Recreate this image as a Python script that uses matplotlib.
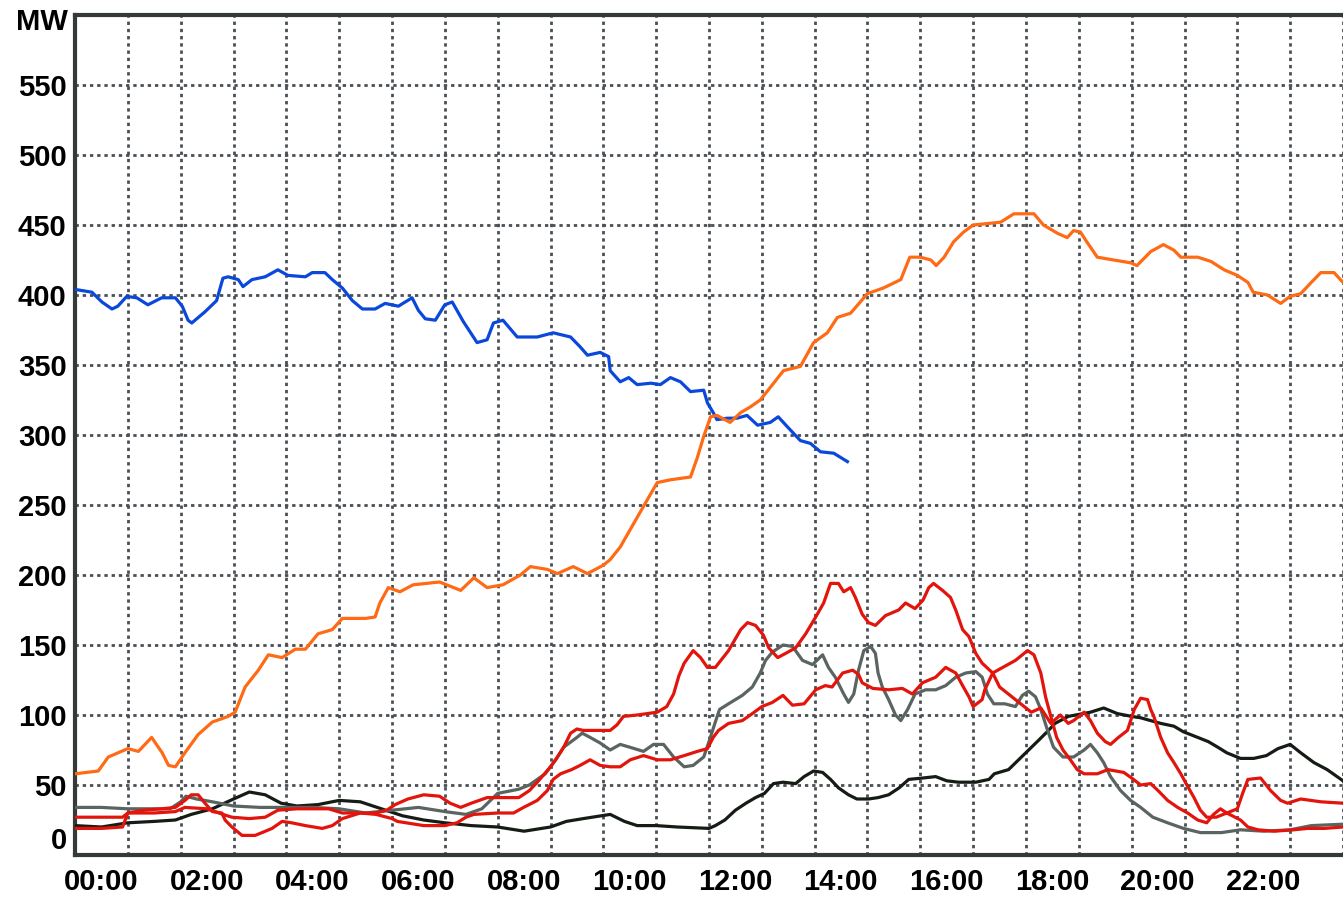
import numpy as np
import matplotlib.pyplot as plt
import matplotlib.transforms as mtransforms

# data to plot (hours of day, MW)
orange_h = [0, 0.44, 0.63, 1.0, 1.2, 1.45, 1.65, 1.77, 1.9, 2.08, 2.33, 2.6, 2.9, 3.03, 3.22, 3.47,
            3.66, 3.92, 4.17, 4.36, 4.6, 4.87, 5.06, 5.5, 5.68, 5.77, 5.93, 6.15, 6.4, 6.9, 7.3, 7.55,
            7.8, 8.1, 8.43, 8.62, 8.94, 9.13, 9.43, 9.7, 10.0, 10.13, 10.32, 10.76, 11.02, 11.27, 11.65,
            11.78, 11.9, 12.03, 12.15, 12.4, 12.6, 12.78, 12.97, 13.16, 13.41, 13.73, 13.98, 14.24,
            14.43, 14.68, 15.0, 15.3, 15.63, 15.8, 16.0, 16.2, 16.3, 16.45, 16.63, 16.82, 17.0, 17.52,
            17.77, 18.15, 18.33, 18.6, 18.78, 18.9, 19.03, 19.15, 19.35, 19.66, 19.98, 20.1, 20.36,
            20.6, 20.8, 20.93, 21.25, 21.5, 21.75, 22.0, 22.2, 22.3, 22.57, 22.82, 23.0, 23.2, 23.4,
            23.58, 23.83, 24.0]
orange_v = [58, 60, 70, 76, 74, 84, 73, 64, 63, 73, 86, 95, 99, 102, 120, 132,
            143, 141, 147, 147, 158, 161, 169, 169, 170, 180, 191, 188, 193, 195, 189, 198,
            191, 193, 200, 206, 204, 201, 206, 201, 207, 211, 220, 249, 266, 268, 270,
            284, 299, 313, 314, 309, 316, 320, 325, 334, 346, 349, 366, 373,
            384, 387, 401, 405, 411, 427, 427, 425, 421, 427, 438, 445, 450, 452,
            458, 458, 450, 444, 441, 446, 445, 438, 427, 425, 423, 421, 431,
            436, 432, 427, 427, 424, 418, 414, 409, 402, 400, 394, 399, 401, 409,
            416, 416, 409]

blue_h = [0, 0.32, 0.51, 0.7, 0.81, 0.98, 1.17, 1.38, 1.64, 1.9, 2.03, 2.14, 2.21, 2.46, 2.68, 2.8,
          2.9, 3.09, 3.18, 3.35, 3.6, 3.84, 4.03, 4.36, 4.49, 4.73, 4.87, 5.06, 5.25, 5.44, 5.68,
          5.87, 6.12, 6.38, 6.5, 6.63, 6.82, 7.0, 7.14, 7.35, 7.61, 7.8, 7.92, 8.1, 8.37, 8.75, 9.05,
          9.38, 9.56, 9.7, 9.94, 10.1, 10.13, 10.2, 10.32, 10.48, 10.64, 10.9, 11.08, 11.27, 11.46,
          11.65, 11.9, 11.97, 12.08, 12.15, 12.35, 12.53, 12.72, 12.92, 13.16, 13.31, 13.48, 13.73,
          13.92, 14.11, 14.36, 14.62]
blue_v = [404, 402, 395, 390, 392, 399, 398, 393, 398, 398, 392, 382, 380, 388, 396, 412,
          413, 411, 406, 411, 413, 418, 414, 413, 416, 416, 411, 405, 396, 390, 390,
          394, 392, 398, 389, 383, 382, 393, 395, 381, 366, 368, 380, 382, 370, 370, 373,
          370, 363, 357, 359, 356, 346, 343, 338, 341, 336, 337, 336, 341, 338,
          331, 332, 323, 316, 311, 312, 312, 314, 307, 309, 313, 306, 296,
          294, 288, 287, 281]

red_a_h = [0, 0.5, 0.9, 1.0, 1.5, 1.9, 2.08, 2.5, 2.8, 2.97, 3.3, 3.6, 3.84, 4.2, 4.8, 5.06, 5.7, 5.9,
           6.06, 6.3, 6.6, 6.9, 7.1, 7.3, 7.5, 7.8, 8.1, 8.4, 8.6, 8.75, 9.0, 9.13, 9.25, 9.38, 9.5,
           9.62, 9.88, 10.13, 10.26, 10.38, 10.64, 11.02, 11.2, 11.33, 11.43, 11.53, 11.7, 11.84,
           11.97, 12.12, 12.37, 12.6, 12.73, 12.88, 13.03, 13.13, 13.3, 13.45, 13.64, 13.83, 14.02,
           14.17, 14.3, 14.45, 14.55, 14.68, 14.77, 14.9, 15.02, 15.15, 15.34, 15.59, 15.72, 15.9,
           16.05, 16.16, 16.25, 16.42, 16.57, 16.67, 16.8, 16.92, 17.05, 17.17, 17.37, 17.5, 17.7,
           17.9, 18.1, 18.28, 18.47, 18.65, 18.8, 18.9, 19.1, 19.22, 19.35, 19.5, 19.6, 19.75, 19.92,
           20.05, 20.17, 20.3, 20.36, 20.42, 20.55, 20.68, 20.8, 20.93, 21.06, 21.18, 21.3, 21.42,
           21.6, 21.8, 22.06, 22.2, 22.39, 22.7, 23.07, 23.33, 23.65, 24.0]
red_a_v = [19, 19, 20, 30, 30, 31, 34, 33, 29, 27, 26, 27, 32, 33, 33, 30, 30, 32,
           36, 40, 43, 42, 37, 34, 37, 41, 41, 41, 46, 52, 63, 70, 77, 87, 90,
           89, 89, 89, 93, 99, 100, 102, 106, 115, 128, 137, 146, 141,
           134, 134, 146, 161, 166, 164, 157, 148, 141, 144, 148, 158, 170,
           180, 194, 194, 188, 191, 184, 172, 166, 164, 171, 175, 180, 176,
           182, 191, 194, 189, 184, 175, 161, 156, 144, 137, 130, 120, 114,
           108, 102, 105, 94, 100, 94, 96, 102, 96, 87, 81, 79, 84, 89,
           104, 112, 111, 104, 99, 84, 73, 66, 58, 49, 41, 32, 27,
           27, 30, 25, 20, 18, 17, 18, 19, 19, 20]

red_b_h = [0, 0.9, 1.0, 1.3, 1.64, 1.9, 2.08, 2.2, 2.33, 2.46, 2.6, 2.78, 2.84, 2.97, 3.16, 3.41, 3.54,
           3.73, 3.92, 4.1, 4.36, 4.68, 4.87, 5.06, 5.4, 5.7, 6.0, 6.1, 6.6, 7.0, 7.23, 7.4, 7.55, 8.0,
           8.3, 8.49, 8.75, 8.94, 9.05, 9.19, 9.4, 9.56, 9.75, 9.94, 10.13, 10.32, 10.51, 10.76, 11.02,
           11.27, 11.53, 11.78, 11.97, 12.08, 12.18, 12.37, 12.63, 12.82, 13.0, 13.2, 13.4, 13.58,
           13.8, 14.02, 14.2, 14.33, 14.53, 14.72, 14.83, 14.9, 15.1, 15.4, 15.66, 15.85, 16.04,
           16.29, 16.48, 16.67, 16.8, 16.92, 17.0, 17.17, 17.22, 17.37, 17.56, 17.8, 18.03, 18.15,
           18.28, 18.37, 18.47, 18.58, 18.7, 18.84, 18.97, 19.1, 19.35, 19.55, 19.85, 20.0, 20.17,
           20.36, 20.5, 20.68, 20.87, 21.06, 21.25, 21.42, 21.55, 21.68, 21.8, 22.0, 22.1, 22.2,
           22.44, 22.63, 22.82, 22.95, 23.2, 23.58, 24.0]
red_b_v = [27, 27, 30, 32, 33, 34, 39, 43, 43, 37, 31, 30, 25, 20, 14, 14, 16,
           19, 24, 23, 21, 19, 21, 26, 30, 29, 26, 24, 21, 21, 23, 27, 29, 30,
           30, 34, 39, 46, 54, 58, 61, 64, 68, 64, 63, 63, 68, 71, 68,
           68, 71, 74, 76, 84, 89, 94, 96, 101, 106, 109, 114, 107,
           108, 118, 121, 120, 130, 132, 129, 123, 119, 118, 119, 115, 123,
           127, 134, 130, 121, 113, 106, 111, 118, 130, 134, 139, 146, 143,
           130, 113, 99, 84, 75, 68, 61, 58, 58, 61, 59, 55, 50,
           51, 46, 39, 34, 30, 25, 23, 29, 33, 30, 33, 44, 54,
           55, 46, 39, 37, 40, 38, 37]

gray_h = [0, 0.5, 1.0, 1.8, 2.0, 2.1, 2.3, 2.6, 3.0, 3.5, 4.0, 4.5, 5.0, 5.5, 6.0, 6.5, 7.0, 7.4, 7.7,
          8.0, 8.4, 8.6, 8.9, 9.1, 9.25, 9.5, 9.6, 9.75, 9.94, 10.13, 10.32, 10.5, 10.76, 10.95, 11.14,
          11.33, 11.53, 11.7, 11.9, 12.0, 12.12, 12.2, 12.37, 12.63, 12.82, 12.97, 13.07, 13.2, 13.4,
          13.58, 13.77, 13.96, 14.15, 14.26, 14.39, 14.55, 14.64, 14.74, 14.83, 14.93, 15.06, 15.15,
          15.2, 15.28, 15.4, 15.53, 15.63, 15.76, 15.9, 16.1, 16.29, 16.48, 16.67, 16.86, 17.05,
          17.17, 17.27, 17.39, 17.6, 17.8, 17.93, 18.05, 18.18, 18.28, 18.4, 18.52, 18.7, 18.9,
          19.1, 19.22, 19.35, 19.47, 19.6, 19.79, 19.98, 20.17, 20.4, 20.68, 20.98, 21.3, 21.7,
          22.06, 22.5, 23.0, 23.4, 24.0]
gray_v = [34, 34, 33, 33, 38, 42, 40, 38, 35, 34, 34, 34, 33, 30, 32, 34, 31, 29, 33,
          44, 47, 50, 58, 68, 77, 84, 87, 84, 80, 75, 79, 77, 74, 79, 79,
          70, 63, 64, 70, 81, 95, 104, 108, 114, 120, 130, 139, 145, 150,
          149, 139, 136, 143, 134, 127, 115, 109, 115, 132, 146, 149, 144,
          130, 120, 111, 100, 96, 104, 115, 118, 118, 121, 127, 130, 131,
          127, 115, 108, 108, 106, 114, 117, 113, 104, 90, 77, 70, 70,
          75, 79, 73, 66, 56, 46, 39, 34, 27, 23, 19, 16, 16,
          18, 17, 18, 21, 22]

black_h = [0, 0.5, 1.0, 1.5, 1.9, 2.2, 2.6, 3.0, 3.3, 3.6, 3.9, 4.2, 4.6, 5.0, 5.4, 5.8, 6.2, 6.6, 7.0,
           7.5, 8.0, 8.5, 9.0, 9.3, 9.62, 10.13, 10.4, 10.64, 11.0, 11.4, 12.0, 12.12, 12.3, 12.5, 12.7,
           12.88, 13.05, 13.22, 13.4, 13.64, 13.8, 13.98, 14.15, 14.3, 14.45, 14.64, 14.8, 15.02, 15.2,
           15.4, 15.6, 15.78, 16.05, 16.29, 16.5, 16.72, 17.05, 17.3, 17.4, 17.67, 17.86, 18.05, 18.24,
           18.4, 18.55, 18.8, 19.22, 19.47, 19.73, 20.0, 20.17, 20.55, 20.8, 20.98, 21.25, 21.45,
           21.63, 21.8, 22.06, 22.31, 22.55, 22.77, 23.0, 23.2, 23.45, 23.7, 24.0]
black_v = [21, 20, 23, 24, 25, 29, 33, 40, 45, 43, 37, 35, 36, 39, 38, 33, 28, 25, 23,
           21, 20, 17, 20, 24, 26, 29, 24, 21, 21, 20, 19, 21, 25, 32, 37,
           41, 44, 51, 52, 51, 56, 60, 59, 54, 48, 43, 40, 40, 41,
           43, 48, 54, 55, 56, 53, 52, 52, 54, 58, 61, 68, 75, 82,
           88, 94, 99, 102, 105, 101, 99, 98, 94, 92, 88, 84, 81,
           77, 73, 69, 69, 71, 76, 79, 73, 66, 61, 53]

y_ticks = list(range(0, 600, 50))
x_labels = ['00:00', '02:00', '04:00', '06:00', '08:00', '10:00',
            '12:00', '14:00', '16:00', '18:00', '20:00', '22:00']

plt.rcParams['font.family'] = ['Liberation Sans', 'DejaVu Sans']

fig = plt.figure(figsize=(13.43, 8.99), dpi=100)
ax = fig.add_axes([75 / 1343, 44 / 899, 1268 / 1343, 840 / 899])

lw = 2.3
ax.plot(black_h, black_v, color='#141c14', lw=lw, zorder=3)
ax.plot(gray_h, gray_v, color='#5a6460', lw=lw, zorder=3)
ax.plot(red_b_h, red_b_v, color='#e2140c', lw=lw, zorder=4)
ax.plot(red_a_h, red_a_v, color='#e2140c', lw=lw, zorder=4)
ax.plot(blue_h, blue_v, color='#0a48dc', lw=lw, zorder=4)
ax.plot(orange_h, orange_v, color='#ff6a14', lw=lw, zorder=5)

ax.set_xlim(0, 24)
ax.set_ylim(0, 600)

# hour grid, labels every 2 hours (sitting just right of the line)
ax.set_xticks(np.arange(0, 25, 1))
ax.set_xticklabels([x_labels[i // 2] if i % 2 == 0 and i < 24 else '' for i in range(25)],
                   fontsize=21, fontweight='bold')
ax.set_yticks(y_ticks)
ax.set_yticklabels([str(v) for v in y_ticks], fontsize=21, fontweight='bold')
ax.tick_params(axis='both', length=0)
ax.tick_params(axis='x', pad=9)
ax.tick_params(axis='y', pad=6)
shift = mtransforms.ScaledTranslation(26 / 100, 0, fig.dpi_scale_trans)
for lab in ax.get_xticklabels():
    lab.set_transform(lab.get_transform() + shift)
ax.get_yticklabels()[0].set_va('bottom')

ax.grid(True, color='#4a4f55', linestyle=(0, (1.2, 1.4)), linewidth=2.0, zorder=1)
ax.set_axisbelow(True)

for side in ['left', 'bottom', 'top']:
    ax.spines[side].set_color('#333a38')
    ax.spines[side].set_linewidth(3)
ax.spines['right'].set_visible(False)

fig.text(68 / 1343, 1 - 22 / 899, 'MW', ha='right', va='center', fontsize=21, fontweight='bold')

plt.savefig('out.png', dpi=100)
